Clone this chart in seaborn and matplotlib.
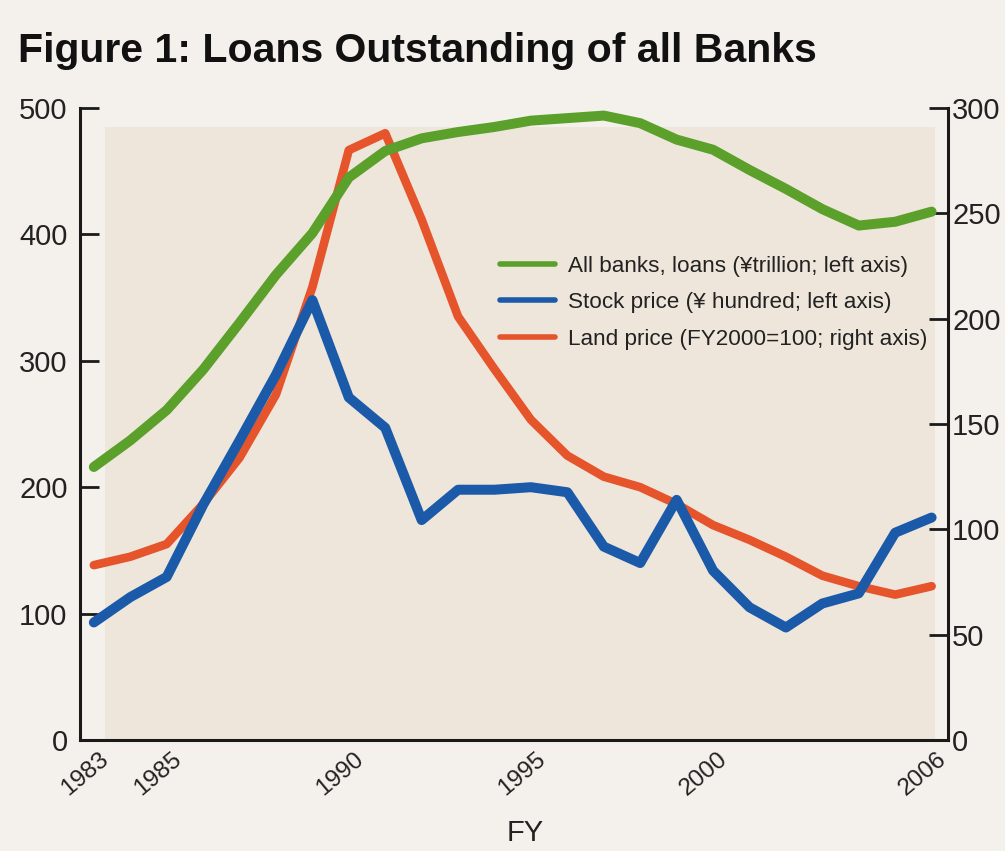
import numpy as np
import pandas as pd
import matplotlib
matplotlib.use("Agg")
import matplotlib.pyplot as plt
import matplotlib.transforms as mtransforms
from matplotlib import font_manager as fm
from matplotlib.patches import Rectangle
from matplotlib.lines import Line2D
import seaborn as sns

# ---- data ----
years = list(range(1983, 2007))
loans = [216, 237, 261, 293, 330, 368, 401, 445, 466, 476, 481, 485,
         490, 492, 494, 488, 475, 467, 451, 436, 420, 407, 410, 418]
stock = [93, 113, 129, 186, 237, 289, 348, 271, 247, 174, 198, 198,
         200, 196, 153, 140, 190, 134, 105, 89, 108, 116, 164, 176]
land = [83, 87, 93, 112, 134, 164, 215, 280, 288, 247, 201, 176,
        152, 135, 125, 120, 112, 102, 95, 87, 78, 73, 69, 73]

xtick_years = [1983, 1985, 1990, 1995, 2000, 2006]
left_ticks = [0, 100, 200, 300, 400, 500]
right_ticks = [0, 50, 100, 150, 200, 250, 300]

title = "Figure 1: Loans Outstanding of all Banks"
series_labels = ["All banks, loans (\u00a5trillion; left axis)",
                 "Stock price (\u00a5 hundred; left axis)",
                 "Land price (FY2000=100; right axis)"]
green, blue, orange = "#5aa02a", "#1b5aa8", "#e5542b"

# ---- style ----
sns.set_theme(style="white")
names = {f.name for f in fm.fontManager.ttflist}
narrow = "Liberation Sans Narrow" in names
fam = "Liberation Sans Narrow" if narrow else "Liberation Sans"
k = 1.19 if narrow else 1.0
plt.rcParams['font.family'] = [fam, 'DejaVu Sans']

df = pd.DataFrame({"FY": years, "loans": loans, "stock": stock, "land": land})

W, H = 1005, 851
fig = plt.figure(figsize=(W / 100, H / 100), dpi=100, facecolor="#f4f1ed")
ax = fig.add_axes([80 / W, 1 - 740 / H, (948 - 80) / W, (740 - 108) / H])
ax2 = ax.twinx()
ax.set_zorder(ax2.get_zorder() + 1)
ax.patch.set_visible(False)
ax2.patch.set_visible(False)
ax2.add_patch(Rectangle((0.029, 0), 0.956, 0.97, transform=ax2.transAxes,
                        facecolor="#efe6db", edgecolor="none", zorder=0))

kw = dict(solid_capstyle="round", solid_joinstyle="round")
sns.lineplot(data=df, x="FY", y="land", ax=ax2, color=orange, lw=6.2, zorder=3, **kw)
sns.lineplot(data=df, x="FY", y="loans", ax=ax, color=green, lw=7.2, zorder=3, **kw)
sns.lineplot(data=df, x="FY", y="stock", ax=ax, color=blue, lw=7.2, zorder=4, **kw)

ax.set_xlim(1982.62, 2006.45)
ax.set_ylim(0, 500)
ax2.set_ylim(0, 300)
ax.set_xlabel("")
ax.set_ylabel("")
ax2.set_ylabel("")

spine_c = "#1a1a1a"
for s in ["top", "right"]:
    ax.spines[s].set_visible(False)
for s in ["top", "left", "bottom"]:
    ax2.spines[s].set_visible(False)
for sp in [ax.spines["left"], ax.spines["bottom"], ax2.spines["right"]]:
    sp.set_color(spine_c)
    sp.set_linewidth(2.2)

ax.set_yticks(left_ticks)
ax.set_yticklabels([str(t) for t in left_ticks])
ax2.set_yticks(right_ticks)
ax2.set_yticklabels([str(t) for t in right_ticks])
ax.tick_params(axis="y", direction="in", length=14, width=2, color=spine_c,
               labelsize=21 * k, pad=9, labelcolor="#222222", left=True)
ax2.tick_params(axis="y", direction="in", length=14, width=2, color=spine_c,
                labelsize=21 * k, pad=3, labelcolor="#222222", right=True)

ax.set_xticks(xtick_years)
ax.set_xticklabels([str(y) for y in xtick_years], rotation=40, ha="right",
                   va="center", rotation_mode="anchor")
ax.tick_params(axis="x", length=0, labelsize=17.6 * k, pad=12, labelcolor="#222222")
off = mtransforms.ScaledTranslation(0.12, 0, fig.dpi_scale_trans)
for lbl in ax.get_xticklabels():
    lbl.set_transform(lbl.get_transform() + off)

handles = [Line2D([], [], color=green, lw=4),
           Line2D([], [], color=blue, lw=4),
           Line2D([], [], color=orange, lw=4)]
leg = fig.legend(handles, series_labels, loc="upper left",
                 bbox_to_anchor=(500 / W, 1 - 256 / H), frameon=False,
                 fontsize=16.2 * k, handlelength=2.45, handletextpad=0.55,
                 labelspacing=0.68, borderpad=0, borderaxespad=0)
for t in leg.get_texts():
    t.set_color("#222222")

fig.text(18 / W, 1 - 62 / H, title, fontweight="bold", fontsize=29.5 * k,
         va="baseline", ha="left", color="#111111")
fig.text(525 / W, 1 - 833 / H, "FY", fontsize=21 * k, ha="center", va="center",
         color="#222222")

fig.savefig("out.png", dpi=100, facecolor=fig.get_facecolor())
